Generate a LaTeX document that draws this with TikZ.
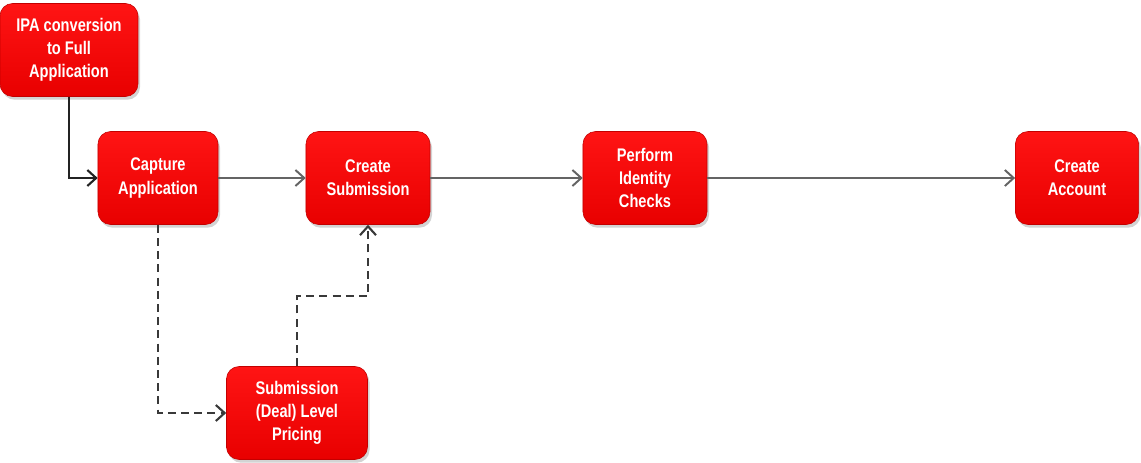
\documentclass[tikz,border=0pt]{standalone}
\usepackage{fontspec}
\setmainfont{Liberation Sans}[FakeStretch=0.8]
\usetikzlibrary{arrows.meta, positioning, shadows}
\definecolor{boxtop}{RGB}{255,20,20}
\definecolor{boxbottom}{RGB}{232,0,0}
\definecolor{boxedge}{RGB}{195,0,0}
\definecolor{flowgray}{RGB}{100,100,100}
\definecolor{darkline}{RGB}{35,35,35}

\begin{document}
\begin{tikzpicture}[
        x=0.025cm, y=-0.025cm,
        stage/.style={rectangle, rounded corners=9pt, draw=boxedge, top color=boxtop, bottom color=boxbottom,
            minimum width=3cm, minimum height=2.325cm, align=center, text=white,
            font=\bfseries\fontsize{13}{16.5}\selectfont,
            drop shadow={shadow xshift=0.5mm, shadow yshift=-0.8mm, opacity=0.35}},
        flow/.style={-{Straight Barb[length=2.2mm, width=4mm]}, flowgray, line width=1.4pt},
        feed/.style={-{Straight Barb[length=2.2mm, width=4mm]}, darkline, line width=1.5pt},
        dashflow/.style={-{Straight Barb[length=2.2mm, width=4mm]}, darkline!90, line width=1.5pt, dash pattern=on 2mm off 1.3mm}
    ]
        \useasboundingbox (0,0) rectangle (1141,462);

        \node[stage, minimum width=3.45cm] (ipa) at (69,50) {IPA conversion\\to Full\\Application};
        \node[stage] (capture) at (158,178) {Capture\\Application};
        \node[stage, minimum width=3.1cm] (submission) at (368,178) {Create\\Submission};
        \node[stage, minimum width=3.1cm] (identity) at (645,178) {Perform\\Identity\\Checks};
        \node[stage, minimum width=3.08cm] (account) at (1077,178) {Create\\Account};
        \node[stage, minimum width=3.525cm] (pricing) at (297,413) {Submission\\(Deal) Level\\Pricing};

        \draw[feed] (ipa.south) |- (capture.west);
        \draw[flow] (capture) -- (submission);
        \draw[flow] (submission) -- (identity);
        \draw[flow] (identity) -- (account);

        % pricing side path
        \draw[dashflow] (capture.south) |- (pricing.west);
        \draw[dashflow] (pricing.north) -- ++(0,-70) -| (submission.south);
    \end{tikzpicture}
\end{document}
